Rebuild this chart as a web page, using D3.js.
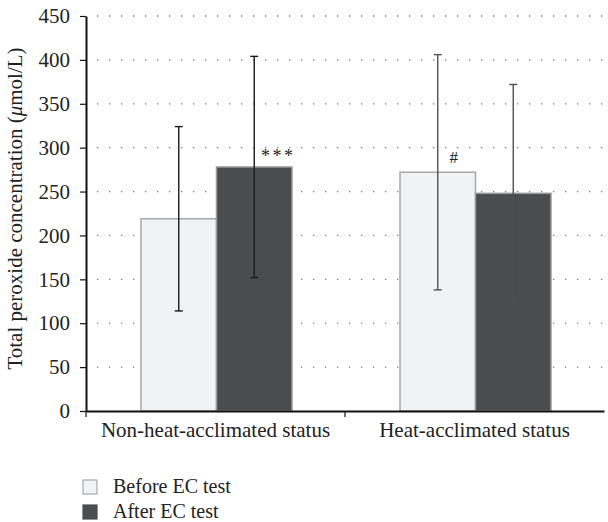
<!DOCTYPE html>
<html>
<head>
<meta charset="utf-8">
<script src="https://cdn.jsdelivr.net/npm/d3@7"></script>
<style>
body { margin: 0; background: #fff; }
text { font-family: "Liberation Serif", "DejaVu Serif", serif; fill: #222; }
</style>
</head>
<body>
<div id="chart"></div>
<script>
var groups = ["Non-heat-acclimated status", "Heat-acclimated status"];
var seriesNames = ["Before EC test", "After EC test"];
var means = [[219, 278], [272, 248]];
var sds = [[105, 126], [134, 124]];
var marks = [["", "***"], ["#", ""]];
var yTicks = [0, 50, 100, 150, 200, 250, 300, 350, 400, 450];

var margin = {top: 16, right: 5, bottom: 111, left: 86},
width = 608 - margin.left - margin.right,
height = 522 - margin.top - margin.bottom;

var serif = '"Liberation Serif", "DejaVu Serif", serif';

var svg = d3.select('#chart')
.append('svg')
.attr('width', 608)
.attr('height', 522)
.append('g')
.attr('transform', 'translate(' + margin.left + ',' + margin.top + ')');

var x = d3.scaleBand()
.range([0, width + 1])
.domain(groups)

var x1 = d3.scaleBand()
.range([55, x.bandwidth() - 53])
.domain(seriesNames)

var y = d3.scaleLinear()
.range([height, 0])
.domain([0, 450])

var colors = ['#f1f2f4', '#4b4c4e'];
var strokes = ['#a8a8a8', '#9a9a9a'];
var errColors = ['#1a1a1a', '#505050'];

// dotted grid
svg.selectAll('.grid')
.data(yTicks.slice(1))
.enter()
.append('line')
.attr('x1', 11)
.attr('x2', width)
.attr('y1', function(d) {return y(d)})
.attr('y2', function(d) {return y(d)})
.style('stroke', '#777')
.style('stroke-width', 1.3)
.style('stroke-dasharray', '1.3,10.7')

// bars
var g = svg.selectAll('.grp')
.data(groups)
.enter()
.append('g')
.attr('transform', function(d) {return 'translate(' + x(d) + ',0)'})

g.each(function(grp, gi) {
  var sel = d3.select(this);
  seriesNames.forEach(function(s, si) {
    var m = means[gi][si], sd = sds[gi][si];
    var cx = x1(s) + x1.bandwidth() / 2;
    sel.append('rect')
    .attr('x', x1(s))
    .attr('y', y(m))
    .attr('width', x1.bandwidth())
    .attr('height', y(0) - y(m))
    .style('fill', colors[si])
    .style('stroke', strokes[si])
    .style('stroke-width', 1.5)
    sel.append('line')
    .attr('x1', cx).attr('x2', cx)
    .attr('y1', y(m + sd)).attr('y2', y(m - sd))
    .style('stroke', errColors[gi]).style('stroke-width', 1.4)
    ;[m + sd, m - sd].forEach(function(v) {
      sel.append('line')
      .attr('x1', cx - 4).attr('x2', cx + 4)
      .attr('y1', y(v)).attr('y2', y(v))
      .style('stroke', errColors[gi]).style('stroke-width', 1.4)
    })
    if (marks[gi][si]) {
      var isHash = marks[gi][si] == '#';
      sel.append('text')
      .attr('x', isHash ? cx + 16 : cx + 24)
      .attr('y', y(m) - (isHash ? 9 : 5))
      .attr('text-anchor', 'middle')
      .style('font-size', isHash ? '17px' : '18px')
      .style('letter-spacing', isHash ? '0' : '2.5px')
      .text(marks[gi][si])
    }
  })
})

// axes
var yAxis = svg.append('g')
.call(d3.axisLeft(y).tickValues(yTicks).tickSize(6).tickSizeOuter(0))
.attr('font-family', serif)
yAxis.select('.domain').style('stroke', '#111').style('stroke-width', 2)
yAxis.selectAll('.tick line').style('stroke', '#111').style('stroke-width', 1.2)
yAxis.selectAll('.tick text').attr('x', -16)
.style('font-family', serif).style('font-size', '21px').style('fill', '#222')

var xAxis = svg.append('g')
.attr('transform', 'translate(0,' + height + ')')
.call(d3.axisBottom(x).tickSize(0).tickSizeOuter(0))
.attr('font-family', serif)
xAxis.select('.domain').style('stroke', '#111').style('stroke-width', 2)
xAxis.selectAll('.tick text').attr('y', 11)
.style('font-family', serif).style('font-size', '21px').style('fill', '#222')
xAxis.selectAll('.sep')
.data([0, x(groups[1])])
.enter()
.append('line')
.attr('x1', function(d) {return d}).attr('x2', function(d) {return d})
.attr('y1', 0).attr('y2', 6)
.style('stroke', '#111').style('stroke-width', 1.2)

// y label
svg.append('text')
.attr('transform', 'translate(' + (-64) + ',' + (height / 2 - 5) + ') rotate(-90)')
.attr('text-anchor', 'middle')
.style('font-size', '21px')
.html('Total peroxide concentration (<tspan font-style="italic">μ</tspan>mol/L)')

// legend
var legend = svg.selectAll('.leg')
.data(seriesNames)
.enter()
.append('g')
.attr('transform', function(d, i) {return 'translate(-3,' + (height + 69 + i * 25) + ')'})

legend.append('rect')
.attr('width', 14).attr('height', 14)
.style('fill', function(d, i) {return colors[i]})
.style('stroke', function(d, i) {return i ? colors[i] : '#a8a8a8'})
.style('stroke-width', 1.2)

legend.append('text')
.attr('x', 30).attr('y', 13)
.style('font-size', '20px')
.text(function(d) {return d})
</script>
</body>
</html>
